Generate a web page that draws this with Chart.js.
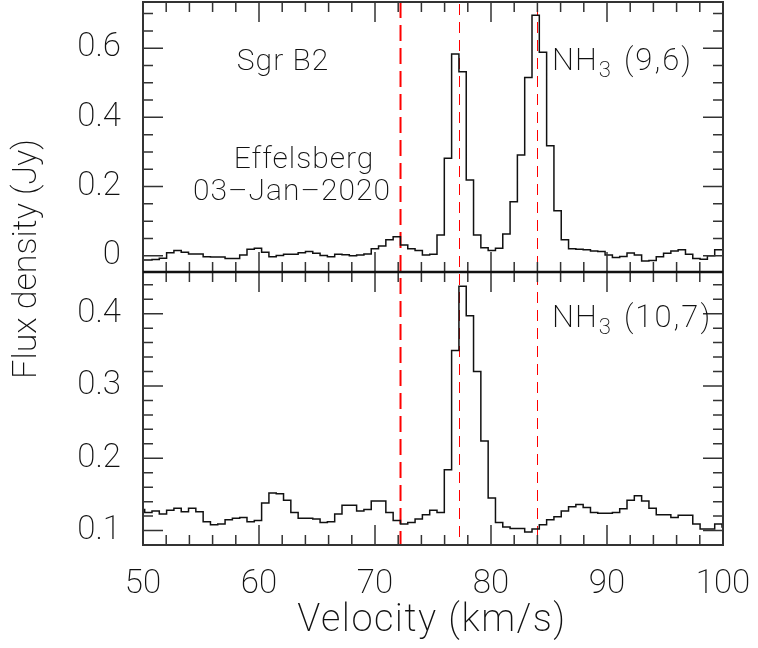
<!DOCTYPE html>
<html>
<head>
<meta charset="utf-8">
<script src="https://cdn.jsdelivr.net/npm/chart.js@4/dist/chart.umd.min.js"></script>
<style>
  html, body { margin: 0; padding: 0; background: #fff; }
  #wrap { width: 758px; height: 648px; }
</style>
</head>
<body>
<div id="wrap"><canvas id="spec" width="758" height="648"></canvas></div>
<script>
// channel grid of the spectrometer (km/s)
const v0 = 49.83;
const dv = 0.63;

// NH3 (9,6), top panel, Jy
const flux96 = [
  -0.012, -0.012, -0.011, -0.007, 0.009, 0.015, 0.010, 0.005, 0.005, -0.003,
  -0.004, -0.004, -0.008, -0.008, 0.002, 0.019, 0.022, 0.010, -0.003, 0.001,
  0.004, 0.004, 0.009, 0.012, 0.007, 0.001, -0.003, 0.004, 0.003, 0.000,
  0.002, 0.005, 0.020, 0.028, 0.046, 0.055, 0.031, 0.020, 0.015, 0.002,
  0.004, 0.060, 0.282, 0.583, 0.532, 0.219, 0.060, 0.023, 0.015, 0.022,
  0.063, 0.156, 0.291, 0.515, 0.695, 0.588, 0.318, 0.130, 0.046, 0.020,
  0.019, 0.017, 0.014, 0.012, 0.002, -0.005, -0.002, 0.008, 0.002, -0.015,
  -0.014, -0.003, 0.007, 0.014, 0.017, 0.004, -0.008, -0.010, 0.000, 0.017,
  0.017
];

// NH3 (10,7), bottom panel, Jy
const flux107 = [
  0.129, 0.125, 0.127, 0.123, 0.128, 0.131, 0.126, 0.131, 0.126, 0.112,
  0.108, 0.109, 0.115, 0.117, 0.118, 0.112, 0.114, 0.138, 0.152, 0.151,
  0.142, 0.125, 0.117, 0.117, 0.116, 0.111, 0.112, 0.123, 0.135, 0.135,
  0.127, 0.129, 0.141, 0.141, 0.125, 0.114, 0.109, 0.111, 0.116, 0.122,
  0.128, 0.125, 0.184, 0.349, 0.438, 0.397, 0.320, 0.224, 0.145, 0.111,
  0.105, 0.103, 0.103, 0.098, 0.102, 0.108, 0.115, 0.119, 0.127, 0.133,
  0.136, 0.132, 0.125, 0.124, 0.124, 0.125, 0.130, 0.142, 0.148, 0.141,
  0.131, 0.122, 0.122, 0.118, 0.121, 0.121, 0.109, 0.102, 0.102, 0.109,
  0.105
];

const xTicks = [50, 60, 70, 80, 90, 100];
const topTicks = [0, 0.2, 0.4, 0.6];
const botTicks = [0.1, 0.2, 0.3, 0.4];
const vSystemic = 72.2;            // red dashed
const vComponents = [77.25, 84.0]; // thin dashed

const velocity = flux96.map((_, i) => v0 + i * dv);
const FONT = 'Roboto';
const W = '200';
const INK = '#111';

function noPad(s) {
  s.paddingTop = 0; s.paddingBottom = 0; s.paddingLeft = 0; s.paddingRight = 0;
}

function drawNH3(ctx, x, y, rest) {
  ctx.textAlign = 'left';
  ctx.textBaseline = 'alphabetic';
  ctx.letterSpacing = '1px';
  ctx.font = `${W} 31px ${FONT}`;
  ctx.fillText('NH', x, y);
  let w = ctx.measureText('NH').width;
  ctx.font = `${W} 22px ${FONT}`;
  ctx.fillText('3', x + w + 1, y + 7);
  w += 1 + ctx.measureText('3').width + 12;
  ctx.font = `${W} 31px ${FONT}`;
  ctx.letterSpacing = '2px';
  ctx.fillText(rest, x + w, y);
  ctx.letterSpacing = '0px';
}

const decor = {
  id: 'decor',
  beforeDatasetsDraw(chart) {
    const {ctx, chartArea, scales} = chart;
    const xs = scales.x;
    ctx.save();
    ctx.strokeStyle = '#ff0000';
    // thin component markers, per panel
    ctx.lineWidth = 1;
    ctx.setLineDash([11, 7]);
    for (const ys of [scales.yTop, scales.yBot]) {
      for (const v of vComponents) {
        const px = Math.round(xs.getPixelForValue(v)) + 0.5;
        ctx.beginPath();
        ctx.moveTo(px, ys.top + 2);
        ctx.lineTo(px, ys.bottom - 2);
        ctx.stroke();
      }
    }
    // systemic velocity across both panels
    ctx.lineWidth = 2;
    ctx.setLineDash([16, 7]);
    const pr = xs.getPixelForValue(vSystemic);
    ctx.beginPath();
    ctx.moveTo(pr, chartArea.top);
    ctx.lineTo(pr, chartArea.bottom);
    ctx.stroke();
    ctx.restore();
  },
  afterDatasetsDraw(chart) {
    const {ctx, scales} = chart;
    const xs = scales.x;
    ctx.save();
    ctx.strokeStyle = '#333';
    ctx.lineWidth = 1.5;
    const panels = [
      {ys: scales.yTop, from: -0.05, step: 0.05, every: 4, first: 1},
      {ys: scales.yBot, from: 0.08, step: 0.02, every: 5, first: 1}
    ];
    for (const p of panels) {
      const top = p.ys.top, bot = p.ys.bottom;
      // x ticks, inward from both edges
      for (let i = 0; i <= 25; i++) {
        const v = 50 + 2 * i;
        const px = xs.getPixelForValue(v);
        const len = v % 10 === 0 ? 20 : 10;
        ctx.beginPath();
        ctx.moveTo(px, bot); ctx.lineTo(px, bot - len);
        ctx.moveTo(px, top); ctx.lineTo(px, top + len);
        ctx.stroke();
      }
      // y ticks, inward from both sides
      for (let i = 0; i < 40; i++) {
        const v = p.from + i * p.step;
        if (v < p.ys.min || v > p.ys.max) continue;
        const py = p.ys.getPixelForValue(v);
        const len = i % p.every === p.first ? 20 : 10;
        ctx.beginPath();
        ctx.moveTo(xs.left, py); ctx.lineTo(xs.left + len, py);
        ctx.moveTo(xs.right, py); ctx.lineTo(xs.right - len, py);
        ctx.stroke();
      }
      ctx.lineWidth = 2;
      ctx.strokeRect(xs.left, top, xs.right - xs.left, bot - top);
      ctx.lineWidth = 1.5;
    }
    // shared border between panels
    ctx.strokeStyle = '#111';
    ctx.lineWidth = 2.5;
    ctx.beginPath();
    ctx.moveTo(xs.left, scales.yTop.bottom);
    ctx.lineTo(xs.right, scales.yTop.bottom);
    ctx.stroke();

    // annotations
    ctx.fillStyle = INK;
    ctx.textAlign = 'center';
    ctx.textBaseline = 'alphabetic';
    ctx.font = `${W} 30px ${FONT}`;
    ctx.letterSpacing = '1px';
    ctx.fillText('Sgr B2', 283, 70);
    ctx.fillText('Effelsberg', 304, 168);
    ctx.fillText('03\u2013Jan\u20132020', 292, 200);
    ctx.letterSpacing = '0px';
    drawNH3(ctx, 552, 70, '(9,6)');
    drawNH3(ctx, 552, 327, '(10,7)');

    // axis titles
    ctx.textAlign = 'center';
    ctx.textBaseline = 'middle';
    ctx.font = `${W} 38px ${FONT}`;
    ctx.letterSpacing = '1.5px';
    ctx.fillText('Velocity (km/s)', 432, 621);
    ctx.font = `${W} 34px ${FONT}`;
    ctx.letterSpacing = '0px';
    ctx.save();
    ctx.translate(27, 259);
    ctx.rotate(-Math.PI / 2);
    ctx.fillText('Flux density (Jy)', 0, 0);
    ctx.restore();
    ctx.restore();
  }
};

const tickFont = {family: FONT, size: 33, weight: W};

new Chart(document.getElementById('spec'), {
  type: 'line',
  data: {
    datasets: [
      {
        label: 'NH3 (9,6)',
        data: velocity.map((v, i) => ({x: v, y: flux96[i]})),
        yAxisID: 'yTop',
        stepped: 'middle',
        borderColor: '#111',
        borderWidth: 1.5,
        pointRadius: 0,
        fill: false
      },
      {
        label: 'NH3 (10,7)',
        data: velocity.map((v, i) => ({x: v, y: flux107[i]})),
        yAxisID: 'yBot',
        stepped: 'middle',
        borderColor: '#111',
        borderWidth: 1.5,
        pointRadius: 0,
        fill: false
      }
    ]
  },
  options: {
    responsive: false,
    animation: false,
    layout: {padding: {top: 2, right: 35, bottom: 0, left: 0}},
    plugins: {legend: {display: false}, tooltip: {enabled: false}},
    scales: {
      x: {
        type: 'linear',
        position: 'bottom',
        min: 50,
        max: 100,
        grid: {display: false, drawTicks: false},
        border: {display: false},
        afterBuildTicks: s => { s.ticks = xTicks.map(v => ({value: v})); },
        afterFit: s => { s.height = 103; noPad(s); },
        ticks: {font: tickFont, color: INK, padding: 20, maxRotation: 0, callback: v => String(v)}
      },
      yBot: {
        type: 'linear',
        position: 'left',
        stack: 'panels',
        stackWeight: 273,
        weight: 1,
        min: 0.080,
        max: 0.4577,
        grid: {display: false, drawTicks: false},
        border: {display: false},
        afterBuildTicks: s => { s.ticks = botTicks.map(v => ({value: v})); },
        afterFit: s => { s.width = 143; noPad(s); },
        ticks: {font: tickFont, color: INK, padding: 22, callback: v => String(v)}
      },
      yTop: {
        type: 'linear',
        position: 'left',
        stack: 'panels',
        stackWeight: 270,
        weight: 2,
        min: -0.047,
        max: 0.7335,
        grid: {display: false, drawTicks: false},
        border: {display: false},
        afterBuildTicks: s => { s.ticks = topTicks.map(v => ({value: v})); },
        afterFit: s => { s.width = 143; noPad(s); },
        ticks: {font: tickFont, color: INK, padding: 22, callback: v => String(v)}
      }
    }
  },
  plugins: [decor]
});
</script>
</body>
</html>
